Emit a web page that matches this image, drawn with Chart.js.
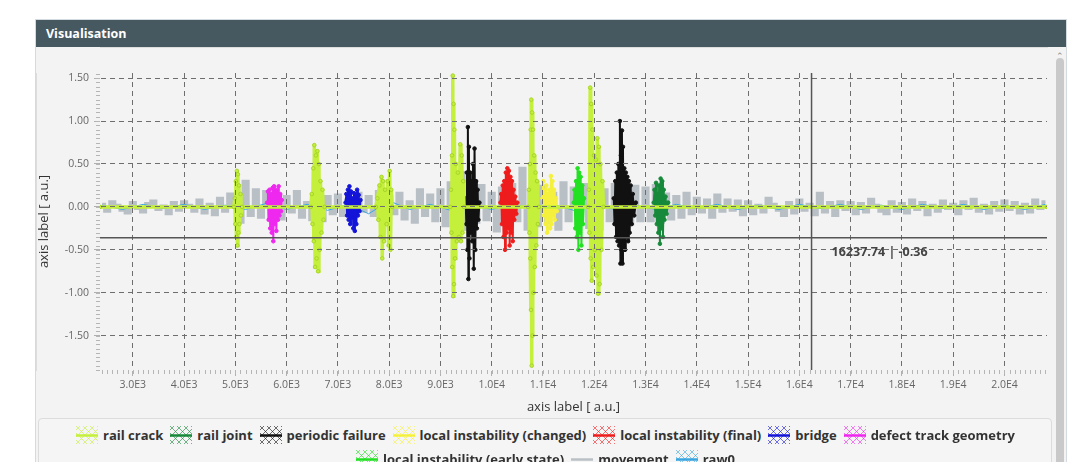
<!DOCTYPE html>
<html>
<head>
<meta charset="utf-8">
<script src="https://cdn.jsdelivr.net/npm/chart.js@4.4.1/dist/chart.umd.min.js"></script>
<style>
  body { margin: 0; background: #fff; width: 1069px; height: 462px; overflow: hidden; font-family: "Open Sans", sans-serif; }
  .panel { position: absolute; left: 35px; top: 19px; width: 1030px; height: 470px; background: #f3f3f3; border: 1px solid #d3dbe0; }
  .panel-head { height: 27px; background: #465961; color: #fff; font-weight: bold; font-size: 12.5px; line-height: 27px; padding-left: 10px; }
  #wrap { position: absolute; left: 0; top: 27px; width: 1016px; height: 370px; }
  #legend { position: absolute; left: 2px; top: 398px; width: 1014px; height: 80px; border: 1px solid #dcdcdc; border-radius: 4px; background: #f5f5f5;
            display: flex; flex-wrap: wrap; justify-content: center; align-content: flex-start; padding-top: 7px; row-gap: 6px; box-sizing: border-box; }
  .item { display: flex; align-items: center; height: 18px; margin: 0 3px; font-weight: bold; font-size: 13px; color: #333; }
  .item canvas { margin-right: 4px; }
  .scroll { position: absolute; left: 1020px; top: 38px; width: 8px; height: 440px; background: #c9c9c9; border-radius: 4px; }
  .arrow { position: absolute; left: 1020px; top: 29px; width: 8px; text-align: center; font-size: 9px; color: #888; }
</style>
</head>
<body>
<div class="panel">
  <div class="panel-head">Visualisation</div>
  <div id="wrap"><canvas id="chart"></canvas></div>
  <div id="legend"></div>
  <div class="arrow">&#8963;</div>
  <div class="scroll"></div>
</div>
<script>
// axis range, ticks and crosshair
const xMin = 2360, xMax = 20830;
const yMin = -1.9, yMax = 1.56;
const xTicks = [3000, 4000, 5000, 6000, 7000, 8000, 9000, 10000, 11000, 12000, 13000, 14000, 15000, 16000, 17000, 18000, 19000, 20000];
const yTicks = [-1.5, -1, -0.5, 0, 0.5, 1, 1.5];
const crossX = 16237.74, crossY = -0.36;

// "movement" background noise, sampled every 100 from 2400
const movementStart = 2400, movementStep = 100;
const movement = [
  0.03,-0.05,0.06,0.02,-0.04,-0.07,
  0.05,-0.02,-0.06,0.04,0.07,-0.03,0.01,-0.08,0.05,-0.04,
  0.06,0.02,-0.05,0.08,-0.07,0.03,-0.09,0.1,-0.05,0.15,
  0.12,-0.18,0.3,-0.1,0.2,-0.12,0.18,-0.15,0.1,-0.14,
  0.12,-0.06,0.18,-0.12,0.05,-0.15,0.22,-0.16,0.12,-0.08,
  0.14,-0.1,0.08,-0.13,0.16,-0.05,0.12,-0.1,0.18,-0.14,
  0.12,-0.08,0.16,-0.14,0.06,-0.18,0.2,-0.1,0.14,-0.16,
  0.2,-0.22,0.28,-0.16,0.4,-0.26,0.22,-0.18,0.25,-0.15,
  0.16,-0.28,0.22,-0.24,0.26,-0.16,0.45,-0.26,0.2,-0.22,
  0.24,-0.18,0.16,-0.26,0.28,-0.16,0.22,-0.2,0.26,-0.24,
  0.3,-0.26,0.2,-0.16,0.26,-0.22,0.18,-0.2,0.24,-0.16,
  0.22,-0.16,0.25,-0.18,0.15,-0.14,0.12,-0.12,0.16,-0.08,
  0.1,-0.06,0.08,-0.12,0.14,-0.05,0.08,-0.04,0.07,-0.09,
  0.06,-0.08,0.02,-0.06,0.1,0.03,-0.04,-0.1,0.05,-0.07,
  0.08,-0.04,0.03,-0.09,0.16,-0.06,0.05,-0.1,0.06,-0.03,
  0.05,-0.08,0.04,-0.06,0.09,0.02,-0.05,-0.08,0.06,-0.05,
  0.04,-0.07,0.08,-0.03,0.05,-0.09,0.02,-0.05,0.07,-0.02,
  0.03,-0.08,0.06,-0.02,0.09,-0.05,0.02,-0.07,0.05,-0.04,
  0.07,-0.03,0.05,-0.07,0.03,-0.06,0.08,-0.02,0.06
];

// raw0, sampled every 400 from 2400
const raw0Start = 2400, raw0Step = 400;
const raw0 = [
  0.02,-0.03,0.03,-0.02,0.03,-0.03,0.02,-0.03,0.04,-0.03,
  0.03,-0.04,0.03,-0.08,0.07,-0.03,0.03,-0.04,0.03,-0.03,
  0.04,-0.03,0.03,-0.04,0.03,-0.03,0.02,-0.03,0.03,-0.02,
  0.03,-0.03,0.02,-0.03,0.03,-0.02,0.03,-0.03,0.02,-0.03,
  0.03,-0.02,0.03,-0.03,0.02,-0.03,0.03
];

// events: [x, y]
const railCrack = [
  [2360,0],
  [4970,0],[4990,0.1],[5000,-0.2],[5010,0.3],[5020,-0.35],[5030,0.42],[5040,-0.45],[5050,0.38],[5060,-0.3],[5070,0.25],[5080,-0.2],[5100,0.15],[5110,-0.1],[5130,0],
  [6470,0],[6490,0.15],[6505,-0.2],[6520,0.45],[6530,-0.4],[6540,0.72],[6555,-0.7],[6570,0.6],[6585,-0.6],[6600,0.65],[6615,-0.75],[6630,0.5],[6645,-0.5],[6660,0.3],[6680,-0.3],[6700,0.2],[6720,-0.15],[6740,0],
  [7740,0],[7770,0.1],[7790,-0.15],[7810,0.25],[7830,-0.35],[7850,0.35],[7865,-0.6],[7880,0.3],[7900,-0.4],[7920,0.2],[7950,-0.2],[7970,0.3],[7990,-0.45],[8010,0.42],[8025,-0.5],[8040,0.2],[8060,0],
  [9190,0],[9205,0.2],[9215,-0.3],[9225,0.6],[9230,-0.7],[9240,1.53],[9248,-1.04],[9256,1.2],[9264,-0.9],[9272,0.9],[9285,-0.6],[9300,0.5],[9320,-0.4],[9340,0.4],[9360,-0.35],[9385,0.73],[9400,-0.4],[9415,0.6],[9430,-0.3],[9445,0.3],[9460,0],
  [10710,0],[10725,0.2],[10735,-0.3],[10745,0.5],[10752,-0.6],[10760,0.9],[10766,-1.2],[10772,1.25],[10780,-1.85],[10788,1.1],[10796,-1.5],[10805,0.9],[10815,-1.0],[10828,0.6],[10840,-0.7],[10855,0.4],[10870,-0.45],[10885,0.3],[10900,-0.2],[10920,0],
  [11880,0],[11895,0.2],[11905,-0.3],[11920,1.39],[11930,-0.6],[11940,1.2],[11950,-0.86],[11965,0.9],[11980,-0.7],[11995,0.6],[12010,-0.5],[12030,0.55],[12045,-0.8],[12060,0.8],[12075,-1.01],[12090,0.7],[12105,-0.9],[12120,0.5],[12140,-0.5],[12160,0.3],[12180,0],
  [20830,0]
];
const railJoint = [[13160,0.05],[13175,0.2],[13190,-0.1],[13205,0.28],[13220,-0.2],[13235,0.15],[13250,-0.3],[13265,0.25],[13280,-0.43],[13295,0.33],[13310,-0.25],[13325,0.3],[13340,-0.35],[13355,0.2],[13370,-0.15],[13390,0.12],[13410,-0.08],[13440,0.05]];
const periodicFailure = [
  [9490,0.1],[9505,-0.2],[9515,0.4],[9525,-0.5],[9535,0.93],[9545,-0.84],[9555,0.7],[9565,-0.6],[9578,0.4],[9590,-0.3],[9605,0.3],[9620,-0.4],[9635,0.5],[9650,-0.72],[9665,0.68],[9680,-0.5],[9695,0.3],[9710,-0.25],[9725,0.2],[9740,-0.15],[9760,0.05],
  [null,null],
  [12380,0.1],[12395,-0.2],[12410,0.3],[12425,-0.35],[12440,0.4],[12455,-0.4],[12470,0.5],[12485,-0.45],[12500,1.0],[12510,-0.66],[12520,0.6],[12530,-0.5],[12540,0.89],[12550,-0.66],[12560,0.7],[12570,-0.4],[12585,0.45],[12600,-0.5],[12615,0.4],[12630,-0.35],[12645,0.35],[12660,-0.4],[12675,0.3],[12690,-0.3],[12710,0.25],[12730,-0.2],[12750,0.15],[12780,-0.1],[12810,0.05]
];
const instabilityChanged = [[10990,0.1],[11005,0.3],[11020,-0.1],[11035,0.2],[11050,-0.2],[11065,0.25],[11080,-0.3],[11095,0.15],[11110,-0.15],[11125,0.2],[11140,-0.25],[11155,0.36],[11170,-0.2],[11185,0.3],[11200,-0.1],[11215,0.2],[11230,-0.15],[11250,0.1],[11270,-0.05]];
const instabilityFinal = [[10170,0.05],[10185,0.15],[10200,-0.2],[10215,0.25],[10230,-0.35],[10245,0.3],[10260,-0.5],[10275,0.4],[10290,-0.3],[10305,0.45],[10320,-0.25],[10335,0.42],[10350,-0.45],[10365,0.35],[10380,-0.3],[10395,0.3],[10410,-0.4],[10425,0.2],[10440,-0.15],[10460,0.12],[10480,-0.08],[10500,0.05]];
const bridge = [[7150,0.05],[7165,0.15],[7180,-0.1],[7195,0.2],[7210,-0.15],[7225,0.24],[7240,-0.2],[7255,0.18],[7270,-0.12],[7285,0.1],[7300,-0.25],[7315,0.16],[7330,-0.28],[7345,0.12],[7360,-0.2],[7375,0.2],[7390,-0.1],[7405,0.14],[7420,-0.05],[7440,0.08]];
const defectGeometry = [[5620,0.05],[5635,0.18],[5650,-0.15],[5665,0.2],[5680,-0.25],[5695,0.15],[5710,-0.3],[5725,0.22],[5740,-0.4],[5755,0.24],[5770,-0.2],[5785,0.18],[5800,-0.28],[5815,0.2],[5830,-0.15],[5845,0.24],[5860,-0.1],[5875,0.15],[5890,-0.05],[5905,0.08]];
const instabilityEarly = [[11600,0.05],[11615,0.2],[11630,-0.25],[11645,0.3],[11660,-0.35],[11675,0.45],[11690,-0.5],[11705,0.4],[11720,-0.3],[11735,0.35],[11750,-0.45],[11765,0.25],[11780,-0.2],[11800,0.1]];

const seriesNames = ['rail crack','rail joint','periodic failure','local instability (changed)','local instability (final)','bridge','defect track geometry','local instability (early state)','movement','raw0'];
const seriesColors = ['#c4ef3a','#17893a','#111111','#f5f03c','#ee1c1c','#1414d8','#ee28ee','#22e022','#b8c0c6','#3aa6e0'];

const toXY = arr => arr.map(p => ({x: p[0], y: p[1]}));
const sampled = (start, step, arr) => arr.map((v, i) => ({x: start + i * step, y: v}));

const eventData = [railCrack, railJoint, periodicFailure, instabilityChanged, instabilityFinal, bridge, defectGeometry, instabilityEarly];

const datasets = eventData.map((d, i) => ({
  label: seriesNames[i],
  data: toXY(d),
  borderColor: seriesColors[i],
  backgroundColor: seriesColors[i],
  pointBackgroundColor: seriesColors[i],
  pointBorderColor: i === 0 ? '#a6d42a' : seriesColors[i],
  borderWidth: i === 0 ? 3.5 : 2,
  pointRadius: 1.8,
  pointBorderWidth: 1,
  spanGaps: false,
  order: i === 0 ? 0 : 1
}));
datasets.push({
  label: seriesNames[8], data: sampled(movementStart, movementStep, movement),
  borderColor: seriesColors[8], backgroundColor: seriesColors[8],
  borderWidth: 3, pointRadius: 0, stepped: 'middle', fill: 'origin', order: 3
});
datasets.push({
  label: seriesNames[9], data: sampled(raw0Start, raw0Step, raw0),
  borderColor: seriesColors[9], backgroundColor: seriesColors[9],
  borderWidth: 1, pointRadius: 0, order: 2
});

// minor ticks + crosshair
const extras = {
  id: 'extras',
  afterDraw(chart) {
    const {ctx, chartArea: a, scales: {x, y}} = chart;
    ctx.save();
    ctx.strokeStyle = '#b5b5b5';
    ctx.lineWidth = 1;
    ctx.beginPath();
    for (let v = 2400; v <= xMax; v += 100) {
      const px = Math.round(x.getPixelForValue(v)) + 0.5;
      ctx.moveTo(px, a.bottom); ctx.lineTo(px, a.bottom + 4);
    }
    for (let k = -38; k <= 31; k++) {
      const py = Math.round(y.getPixelForValue(k * 0.05)) + 0.5;
      ctx.moveTo(a.left - 4, py); ctx.lineTo(a.left, py);
    }
    ctx.stroke();

    const cx = x.getPixelForValue(crossX), cy = y.getPixelForValue(crossY);
    ctx.strokeStyle = '#555';
    ctx.lineWidth = 1.5;
    ctx.beginPath();
    ctx.moveTo(cx, a.top); ctx.lineTo(cx, a.bottom);
    ctx.moveTo(a.left, cy); ctx.lineTo(a.right, cy);
    ctx.stroke();
    ctx.fillStyle = '#444';
    ctx.font = 'bold 12.5px "Open Sans"';
    ctx.textBaseline = 'middle';
    ctx.fillText(crossX.toFixed(2) + ' | ' + crossY.toFixed(2), cx + 20, cy + 15);
    ctx.restore();
  }
};

const sci = v => {
  const e = Math.floor(Math.log10(v));
  return (v / Math.pow(10, e)).toFixed(1) + 'E' + e;
};

Chart.defaults.font.family = '"Open Sans", sans-serif';

new Chart(document.getElementById('chart'), {
  type: 'line',
  data: {datasets},
  options: {
    responsive: true,
    maintainAspectRatio: false,
    animation: false,
    layout: {padding: {top: 26, right: 0, bottom: 0, left: 0}},
    plugins: {legend: {display: false}, tooltip: {enabled: false}},
    scales: {
      x: {
        type: 'linear', min: xMin, max: xMax,
        afterBuildTicks: s => { s.ticks = xTicks.map(v => ({value: v})); },
        afterFit: s => { s.height = 47; },
        grid: {z: 1, color: '#6e6e6e', tickColor: '#b0b0b0', tickLength: 6, tickBorderDash: []},
        border: {color: '#c8c8c8', dash: [5, 4]},
        ticks: {color: '#666', font: {size: 10.5}, padding: 3, maxRotation: 0, autoSkip: false, callback: v => sci(v)},
        title: {display: true, text: 'axis label [ a.u.]', color: '#333', font: {size: 13}, padding: {top: 5, bottom: 2}}
      },
      y: {
        min: yMin, max: yMax,
        afterBuildTicks: s => { s.ticks = yTicks.map(v => ({value: v})); },
        afterFit: s => { s.width = 64; },
        grid: {z: 1, color: '#6e6e6e', tickColor: '#b0b0b0', tickLength: 6, tickBorderDash: []},
        border: {color: '#c8c8c8', dash: [5, 4]},
        ticks: {color: '#666', font: {size: 10.5}, padding: 5, autoSkip: false, callback: v => v.toFixed(2)},
        title: {display: true, text: 'axis label [ a.u.]', color: '#333', font: {size: 13}, padding: {top: 0, bottom: 4}}
      }
    }
  },
  plugins: [extras]
});

// legend built from the same series lists
function drawIcon(cv, color, hatch) {
  const c = cv.getContext('2d');
  if (hatch) {
    c.save();
    c.beginPath(); c.rect(1, 0, 22, 18); c.clip();
    c.strokeStyle = color; c.globalAlpha = 0.6; c.lineWidth = 1;
    c.beginPath();
    for (let k = -20; k <= 28; k += 7) {
      c.moveTo(k, 0); c.lineTo(k + 18, 18);
      c.moveTo(k + 18, 0); c.lineTo(k, 18);
    }
    c.stroke();
    c.restore();
  }
  c.strokeStyle = color; c.lineWidth = 2.5;
  c.beginPath(); c.moveTo(1, 9.5); c.lineTo(23, 9.5); c.stroke();
}
const legendEl = document.getElementById('legend');
seriesNames.forEach((name, i) => {
  const it = document.createElement('div');
  it.className = 'item';
  const cv = document.createElement('canvas');
  cv.width = 24; cv.height = 18;
  drawIcon(cv, seriesColors[i], name !== 'movement');
  it.appendChild(cv);
  it.appendChild(document.createTextNode(name));
  legendEl.appendChild(it);
});
</script>
</body>
</html>
